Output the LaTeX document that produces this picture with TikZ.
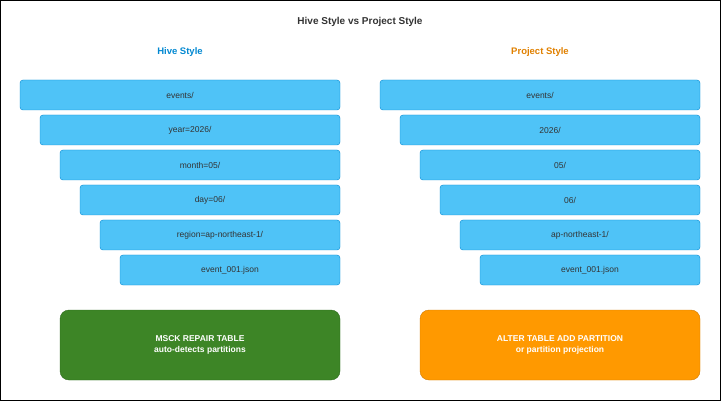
\documentclass[tikz,border=0pt]{standalone}
\usepackage{fontspec}
\setmainfont{Liberation Sans}
\definecolor{pathfill}{HTML}{4FC3F7}
\definecolor{pathline}{HTML}{0288D1}
\definecolor{hiveblue}{HTML}{0288D1}
\definecolor{projorange}{HTML}{E08000}
\definecolor{msckgreen}{HTML}{3D8526}
\definecolor{msckline}{HTML}{2D6A1C}
\definecolor{alterorange}{HTML}{FF9900}
\definecolor{alterline}{HTML}{D07A00}
\definecolor{titlegray}{HTML}{333333}
\tikzset{
  pathbox/.style={draw=pathline,fill=pathfill,rounded corners=3pt,minimum height=30pt,
    font=\fontsize{8.5}{10}\selectfont,text=titlegray,inner sep=0pt},
  cmdbox/.style={rounded corners=9pt,minimum width=280pt,minimum height=70pt,
    font=\bfseries\fontsize{8.5}{10.5}\selectfont,text=white,align=center},
}
\begin{document}
\begin{tikzpicture}[x=1pt,y=-1pt]
    \draw[line width=1pt] (0.5,0.5) rectangle (720.5,400.5);
    \useasboundingbox (0,0) rectangle (721,401);
    \node[font=\bfseries\fontsize{10}{12}\selectfont,text=titlegray] (title) at (360,22) {Hive Style vs Project Style};
    \node[font=\bfseries\fontsize{9.5}{12}\selectfont,text=hiveblue] (hive) at (180,52) {Hive Style};
    \node[font=\bfseries\fontsize{9.5}{12}\selectfont,text=projorange] (proj) at (540,52) {Project Style};
    % hive style path
    \node[pathbox,minimum width=320pt] (h1) at (180,95) {events/};
    \node[pathbox,minimum width=300pt] (h2) at (190,130) {year=2026/};
    \node[pathbox,minimum width=280pt] (h3) at (200,165) {month=05/};
    \node[pathbox,minimum width=260pt] (h4) at (210,200) {day=06/};
    \node[pathbox,minimum width=240pt] (h5) at (220,235) {region=ap-northeast-1/};
    \node[pathbox,minimum width=220pt] (h6) at (230,270) {event\_001.json};
    % project style path
    \node[pathbox,minimum width=320pt] (p1) at (540,95) {events/};
    \node[pathbox,minimum width=300pt] (p2) at (550,130) {2026/};
    \node[pathbox,minimum width=280pt] (p3) at (560,165) {05/};
    \node[pathbox,minimum width=260pt] (p4) at (570,200) {06/};
    \node[pathbox,minimum width=240pt] (p5) at (580,235) {ap-northeast-1/};
    \node[pathbox,minimum width=220pt] (p6) at (590,270) {event\_001.json};
    \node[cmdbox,draw=msckline,fill=msckgreen] (msck) at (200,345) {MSCK REPAIR TABLE\\auto-detects partitions};
    \node[cmdbox,draw=alterline,fill=alterorange] (alter) at (560,345) {ALTER TABLE ADD PARTITION\\or partition projection};
  \end{tikzpicture}
\end{document}
